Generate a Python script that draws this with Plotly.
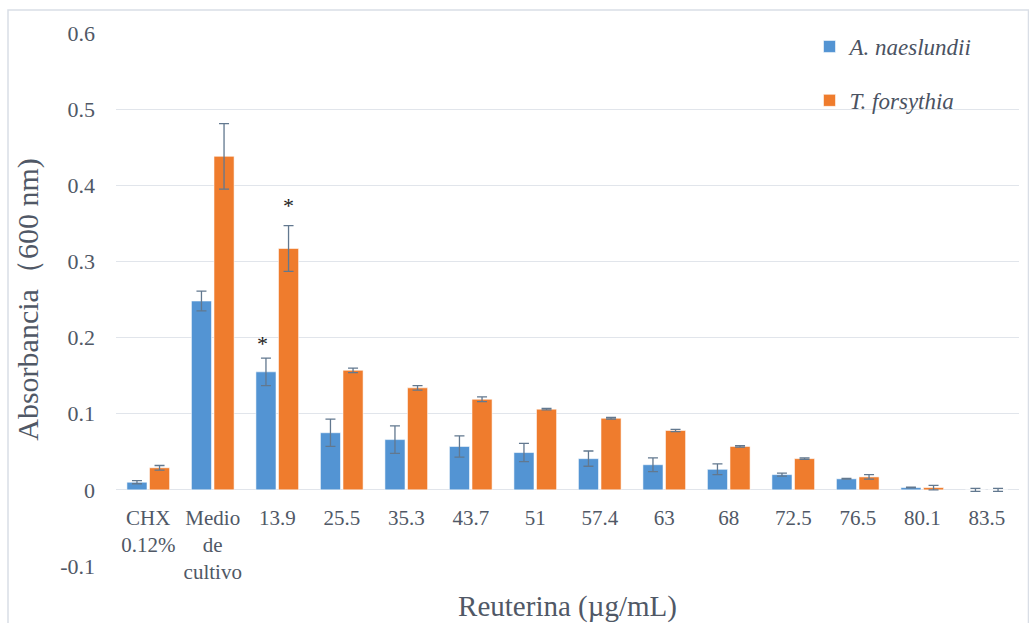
import plotly.graph_objects as go

# Concentraciones de reuterina (con controles) en el eje de categorías
categories = ["CHX<br>0.12%", "Medio<br>de<br>cultivo", "13.9", "25.5", "35.3", "43.7",
              "51", "57.4", "63", "68", "72.5", "76.5", "80.1", "83.5"]

# Absorbancia media (600 nm) y desviación por especie
a_naeslundii = [0.010, 0.248, 0.155, 0.075, 0.066, 0.057, 0.049, 0.041, 0.033, 0.027,
                0.020, 0.0145, 0.003, 0.000]
a_naeslundii_err = [0.002, 0.013, 0.018, 0.018, 0.018, 0.014, 0.012, 0.010, 0.009, 0.007,
                    0.002, 0.0005, 0.0005, 0.002]

t_forsythia = [0.029, 0.438, 0.317, 0.157, 0.134, 0.119, 0.106, 0.094, 0.078, 0.057,
               0.041, 0.017, 0.003, 0.000]
t_forsythia_err = [0.003, 0.043, 0.030, 0.003, 0.003, 0.003, 0.001, 0.001, 0.0015, 0.001,
                   0.001, 0.003, 0.003, 0.002]

# Grupos con diferencia significativa
significant = ["13.9"]

y_ticks = [-0.1, 0, 0.1, 0.2, 0.3, 0.4, 0.5, 0.6]
y_tick_text = ["-0.1", "0", "0.1", "0.2", "0.3", "0.4", "0.5", "0.6"]

FONT = "Liberation Serif, 'Times New Roman', Times, serif"
TEXT = "#505866"
GRID = "#e1e5eb"
ERR = "#62788f"

fig = go.Figure()
fig.add_trace(go.Bar(
    x=categories, y=a_naeslundii, name="A. naeslundii", legendgroup="a",
    marker=dict(color="#5394d3", line=dict(color="rgba(255,255,255,0.55)", width=1)),
    error_y=dict(type="data", array=a_naeslundii_err, color=ERR, thickness=1.3, width=5),
))
fig.add_trace(go.Bar(
    x=categories, y=t_forsythia, name="T. forsythia", legendgroup="b",
    marker=dict(color="#ef7c2d", line=dict(color="rgba(255,255,255,0.55)", width=1)),
    error_y=dict(type="data", array=t_forsythia_err, color=ERR, thickness=1.3, width=5),
))

# Asteriscos sobre las barras significativas (x por índice de categoría)
for cat in significant:
    i = categories.index(cat)
    fig.add_annotation(x=i, y=a_naeslundii[i] + a_naeslundii_err[i], xref="x", yref="y",
                       text="*", showarrow=False, xshift=-15, yshift=15,
                       font=dict(family=FONT, size=22, color="#222222"))
    fig.add_annotation(x=i, y=t_forsythia[i] + t_forsythia_err[i], xref="x", yref="y",
                       text="*", showarrow=False, xshift=11, yshift=20,
                       font=dict(family=FONT, size=22, color="#222222"))

# Marco exterior del gráfico
fig.add_shape(type="rect", xref="paper", yref="paper", x0=-0.1196, x1=1.0105,
              y0=-0.15, y1=1.043, line=dict(color="#d9dee6", width=1.5), layer="below")

y_min, y_max = -0.1, 0.6
fig.update_layout(
    width=1029, height=623,
    margin=dict(l=116, r=10, t=33, b=57),
    paper_bgcolor="white", plot_bgcolor="white",
    barmode="group", bargap=0.30, bargroupgap=0.11,
    font=dict(family=FONT, color=TEXT),
    showlegend=True,
    legend=dict(x=0.768, y=1.015, xanchor="left", yanchor="top",
                bgcolor="rgba(0,0,0,0)", tracegroupgap=21,
                font=dict(family=FONT, size=23, color="#4a5262", style="italic"),
                itemwidth=30),
    xaxis=dict(
        type="category", anchor="free", position=(0 - y_min) / (y_max - y_min),
        range=[-0.5, len(categories) - 0.5], automargin=False,
        showgrid=False, showline=False, zeroline=False, ticks="", ticklabelstandoff=13,
        tickfont=dict(family=FONT, size=21, color=TEXT),
        title=dict(text="Reuterina (µg/mL)", font=dict(family=FONT, size=29, color=TEXT),
                   standoff=12),
    ),
    yaxis=dict(
        range=[y_min, y_max], tickvals=y_ticks, ticktext=y_tick_text, automargin=False,
        showgrid=True, gridcolor=GRID, gridwidth=1,
        zeroline=True, zerolinecolor=GRID, zerolinewidth=1,
        showline=False, ticks="", ticklabelstandoff=20,
        tickfont=dict(family=FONT, size=22, color=TEXT),
        title=dict(text="Absorbancia（600 nm)", font=dict(family=FONT, size=30, color=TEXT),
                   standoff=12),
    ),
)

fig.write_html("out.html")
